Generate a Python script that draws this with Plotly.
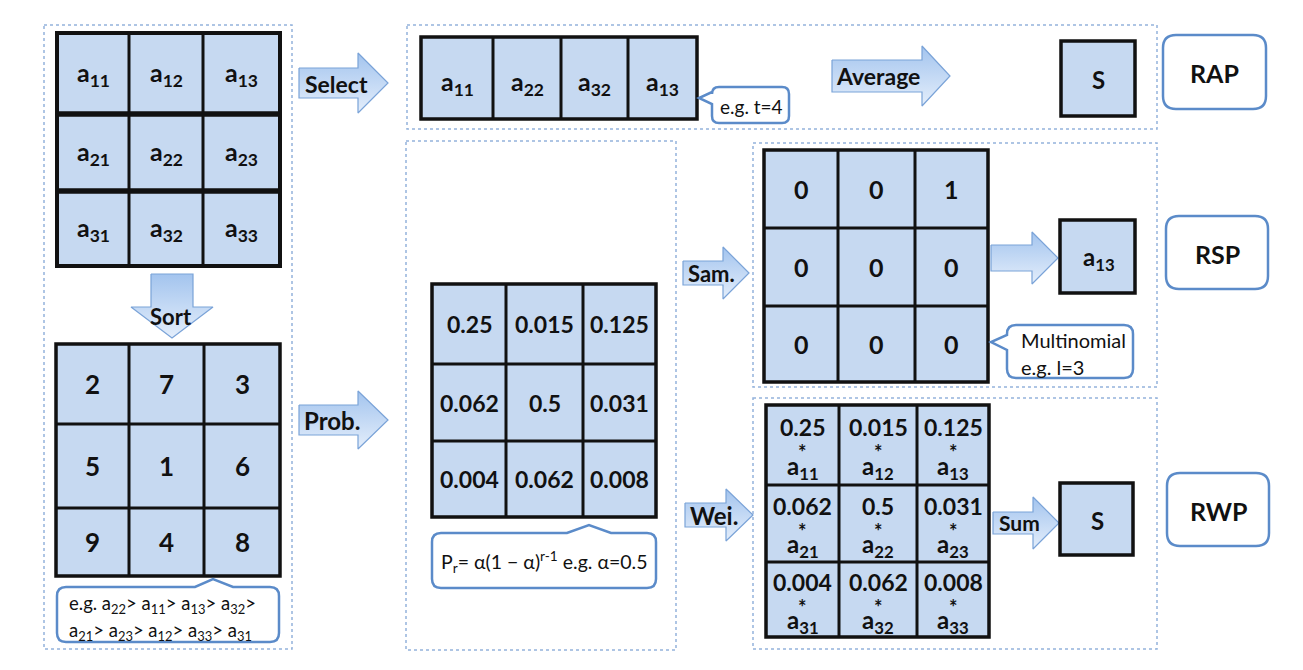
import plotly.graph_objects as go

W, H = 1303, 670
PAD = 8  # the page body margin pushes the plot 8px right and down

# ---- values shown in the diagram ----
entry_index = [["11", "12", "13"], ["21", "22", "23"], ["31", "32", "33"]]
sort_rank = [[2, 7, 3], [5, 1, 6], [9, 4, 8]]
rank_prob = [["0.25", "0.015", "0.125"],
             ["0.062", "0.5", "0.031"],
             ["0.004", "0.062", "0.008"]]
sample_mask = [[0, 0, 1], [0, 0, 0], [0, 0, 0]]
selected_index = ["11", "22", "32", "13"]
sorted_order = ["22", "11", "13", "32", "21", "23", "12", "33", "31"]
sampled_index = "13"
pooled_value = "S"
method_names = ["RAP", "RSP", "RWP"]
select_note = "e.g. t=4"
prob_note = "P<sub>r</sub>= α(1 − α)<sup>r-1</sup> e.g. α=0.5"
sample_note = ["Multinomial", "e.g. l=3"]

# ---- style ----
FONT = "Lato"
CELL = "#c6d9f1"
INK = "#111111"
BLUE = "#5b8bc9"
DOTS = "#94b3dc"


def a(idx):
    return "a<sub>%s</sub>" % idx


fig = go.Figure()
shapes = []
notes = []


def text(x, y, s, size, bold=True, xanchor="center"):
    notes.append(dict(x=x, y=y, text=s, showarrow=False, xanchor=xanchor, yanchor="middle",
                      font=dict(family=FONT, size=size, color=INK,
                                weight="bold" if bold else "normal")))


def grid(xs, ys, hw=3, vw=3, bw=3.5):
    shapes.append(dict(type="rect", x0=xs[0], x1=xs[-1], y0=ys[0], y1=ys[-1],
                       fillcolor=CELL, line=dict(width=0), layer="below"))
    for x in xs[1:-1]:
        shapes.append(dict(type="line", x0=x, x1=x, y0=ys[0], y1=ys[-1], line=dict(color=INK, width=vw)))
    for y in ys[1:-1]:
        shapes.append(dict(type="line", x0=xs[0], x1=xs[-1], y0=y, y1=y, line=dict(color=INK, width=hw)))
    shapes.append(dict(type="rect", x0=xs[0], x1=xs[-1], y0=ys[0], y1=ys[-1],
                       line=dict(color=INK, width=bw)))


def centers(e):
    return [(e[i] + e[i + 1]) / 2 for i in range(len(e) - 1)]


def box(x0, y0, x1, y1, bw=3.5):
    grid([x0, x1], [y0, y1], bw=bw)


def bubble(x0, y0, x1, y1, r=9, notch=None):
    p = "M %s,%s " % (x0 + r, y0)
    if notch and notch[0] == "top":
        _, na, nb, ax, ay = notch
        p += "L %s,%s L %s,%s L %s,%s " % (na, y0, ax, ay, nb, y0)
    p += "L %s,%s Q %s,%s %s,%s " % (x1 - r, y0, x1, y0, x1, y0 + r)
    p += "L %s,%s Q %s,%s %s,%s " % (x1, y1 - r, x1, y1, x1 - r, y1)
    p += "L %s,%s Q %s,%s %s,%s " % (x0 + r, y1, x0, y1, x0, y1 - r)
    if notch and notch[0] == "left":
        _, na, nb, ax, ay = notch
        p += "L %s,%s L %s,%s L %s,%s " % (x0, nb, ax, ay, x0, na)
    p += "L %s,%s Q %s,%s %s,%s Z" % (x0, y0 + r, x0, y0, x0 + r, y0)
    shapes.append(dict(type="path", path=p, fillcolor="white", line=dict(color=BLUE, width=2.5)))


def arrow(px, py):
    fig.add_trace(go.Scatter(
        x=px + [px[0]], y=py + [py[0]], mode="lines", fill="toself",
        fillgradient=dict(type="vertical", colorscale=[[0, "#e4eefb"], [1, "#a3c4ee"]]),
        line=dict(color="#7aa3d8", width=1.2), hoverinfo="skip", showlegend=False))


def right_arrow(x0, xh, x1, yc, hs, hh):
    arrow([x0, xh, xh, x1, xh, xh, x0],
          [yc - hs, yc - hs, yc - hh, yc, yc + hh, yc + hs, yc + hs])


def down_arrow(xc, ws, wh, y0, yh, y1):
    arrow([xc - ws, xc + ws, xc + ws, xc + wh, xc, xc - wh, xc - ws],
          [y0, y0, yh, yh, y1, yh, yh])


# ---- dotted group frames ----
for (x0, y0, x1, y1) in [(44, 25, 292, 649), (407, 25, 1157, 129), (406, 141, 676, 650),
                         (753, 143, 1157, 387), (753, 398, 1157, 649)]:
    shapes.append(dict(type="rect", x0=x0, x1=x1, y0=y0, y1=y1,
                       line=dict(color=DOTS, width=1.5, dash="dot")))

# ---- input matrix ----
gx, gy = [57, 129, 203, 280], [33, 114, 191, 266]
grid(gx, gy, hw=5.5, vw=3, bw=4)
for i, cy in enumerate(centers(gy)):
    for j, cx in enumerate(centers(gx)):
        text(cx, cy, a(entry_index[i][j]), 25)

# ---- sorted ranks ----
rx, ry = [56, 129, 204, 280], [344, 424, 508, 576]
grid(rx, ry)
for i, cy in enumerate(centers(ry)):
    for j, cx in enumerate(centers(rx)):
        text(cx, cy, str(sort_rank[i][j]), 26)

bubble(57, 587, 279, 642, notch=("top", 195, 233, 213, 579))
line1 = "e.g. " + "> ".join(a(k) for k in sorted_order[:4]) + ">"
line2 = "> ".join(a(k) for k in sorted_order[4:])
text(67, 604, line1, 18.5, bold=False, xanchor="left")
text(67, 631, line2, 18.5, bold=False, xanchor="left")

# ---- RAP: selected entries, average ----
sx, sy = [421, 493, 561, 628, 697], [37, 119]
grid(sx, sy)
for j, cx in enumerate(centers(sx)):
    text(cx, 83, a(selected_index[j]), 25)
bubble(712, 87, 789, 123, r=7, notch=("left", 92, 104, 699, 98))
text(751, 106, select_note, 19, bold=False)
box(1061, 41, 1135, 116)
text(1098, 79, pooled_value, 24)

# ---- probability matrix ----
px_, py_ = [432, 506, 583, 656], [284, 364, 441, 517]
grid(px_, py_)
for i, cy in enumerate(centers(py_)):
    for j, cx in enumerate(centers(px_)):
        text(cx, cy, rank_prob[i][j], 23)
bubble(432, 533, 656, 588, notch=("top", 567, 611, 589, 525))
text(544, 562, prob_note, 19.5, bold=False)

# ---- RSP: sampled mask ----
mx, my = [764, 838, 915, 988], [150, 228, 306, 382]
grid(mx, my)
for i, cy in enumerate(centers(my)):
    for j, cx in enumerate(centers(mx)):
        text(cx, cy, str(sample_mask[i][j]), 25)
bubble(1007, 325, 1133, 378, r=9, notch=("left", 335, 350, 991, 342))
text(1019, 340, sample_note[0], 20, bold=False, xanchor="left")
text(1019, 367, sample_note[1], 20, bold=False, xanchor="left")
box(1060, 220, 1135, 293)
text(1099, 258, a(sampled_index), 24)

# ---- RWP: weighted entries ----
wx, wy = [766, 839, 917, 989], [405, 485, 562, 637]
grid(wx, wy)
for i, cy in enumerate(centers(wy)):
    for j, cx in enumerate(centers(wx)):
        text(cx, cy - 18, rank_prob[i][j], 23)
        text(cx, cy + 7, "*", 20)
        text(cx, cy + 22, a(entry_index[i][j]), 24)
box(1060, 483, 1133, 555)
text(1097, 520, pooled_value, 24)

# ---- method labels ----
for name, (x0, y0, x1, y1) in zip(method_names, [(1163, 35, 1266, 109), (1166, 216, 1268, 289),
                                                 (1167, 473, 1269, 546)]):
    bubble(x0, y0, x1, y1, r=13)
    text((x0 + x1) / 2, (y0 + y1) / 2 + 1, name, 25)

# ---- block arrows ----
right_arrow(299, 358, 388, 83, 15, 30)
text(336, 84, "Select", 23)
right_arrow(299, 358, 388, 420, 15, 29)
text(332, 420, "Prob.", 24)
right_arrow(832, 922, 950, 76, 16, 30)
text(878, 76, "Average", 23)
down_arrow(172, 21, 41, 274, 307, 338)
text(171, 316, "Sort", 22)
right_arrow(683, 723, 749, 273, 12, 26)
text(711, 273, "Sam.", 22)
right_arrow(685, 726, 753, 515, 12, 26)
text(714, 515, "Wei.", 24)
right_arrow(991, 1032, 1058, 258, 13, 26)
right_arrow(993, 1033, 1059, 523, 11, 26)
text(1019, 522, "Sum", 21)

fig.update_layout(
    width=W - PAD, height=H - PAD,
    margin=dict(l=0, r=0, t=0, b=0),
    paper_bgcolor="white", plot_bgcolor="white",
    xaxis=dict(range=[PAD, W], visible=False, fixedrange=True),
    yaxis=dict(range=[H, PAD], visible=False, fixedrange=True),
    shapes=shapes, annotations=notes,
    showlegend=False,
)

fig.write_html("out.html")
